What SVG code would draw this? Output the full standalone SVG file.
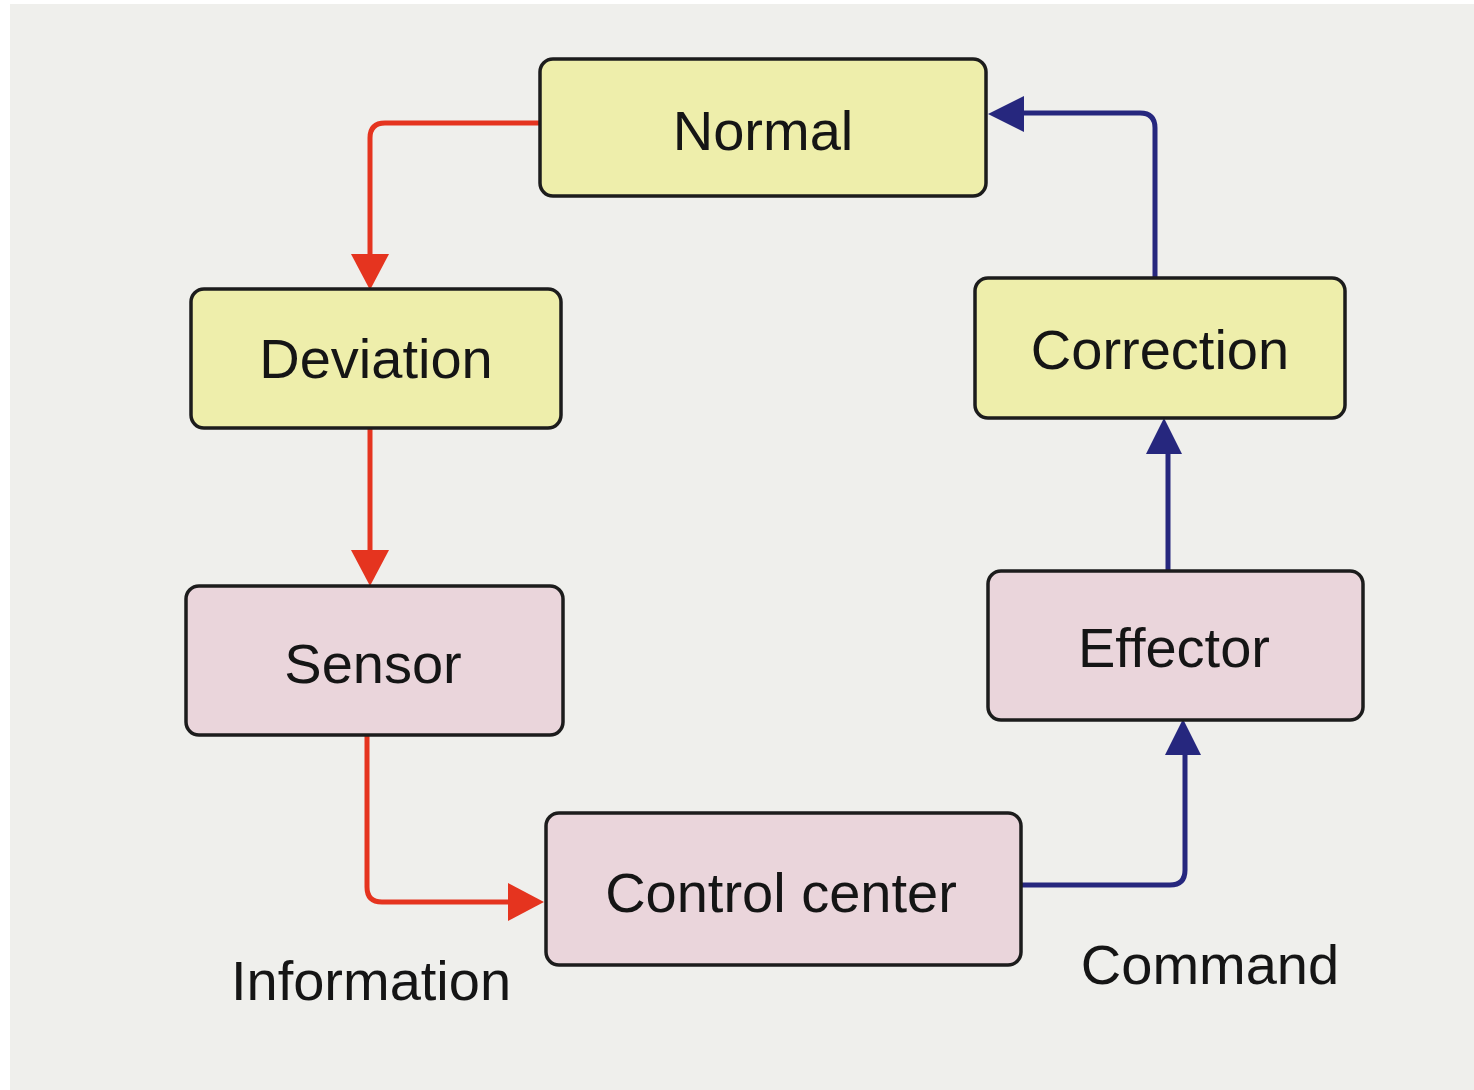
<svg xmlns="http://www.w3.org/2000/svg" width="1474" height="1090" viewBox="0 0 1474 1090">
<style>
.box{stroke:#1c1c1c;stroke-width:3.5}
.y{fill:#eeeeab}
.p{fill:#ead5db}
.t{font-family:"Liberation Sans",Arial,sans-serif;font-size:56px;fill:#151515;text-anchor:middle}
.red{fill:none;stroke:#e5341f;stroke-width:5;stroke-linejoin:round}
.blue{fill:none;stroke:#26277e;stroke-width:5;stroke-linejoin:round}
</style>
<defs>
<marker id="ar" markerWidth="8" markerHeight="8" refX="7.5" refY="4" orient="auto" markerUnits="userSpaceOnUse" viewBox="0 0 8 8">
<path d="M0,0 L8,4 L0,8 Z" fill="#e5341f"/>
</marker>
<marker id="ab" markerWidth="8" markerHeight="8" refX="7.5" refY="4" orient="auto" viewBox="0 0 8 8" markerUnits="userSpaceOnUse">
<path d="M0,0 L8,4 L0,8 Z" fill="#26277e"/>
</marker>
<path id="ahr" d="M-19,-36 L19,-36 L0,0 Z" fill="#e5341f"/>
<path id="ahb" d="M-18,-36 L18,-36 L0,0 Z" fill="#26277e"/>
</defs>
<rect width="1474" height="1090" fill="#ffffff"/>
<rect x="10" y="4" width="1464" height="1086" fill="#efefec"/>

<g id="connectors">
<path class="red" d="M540,123 H385 Q370,123 370,138 V258"/>
<use href="#ahr" transform="translate(370,290)"/>
<path class="red" d="M370,428 V552"/>
<use href="#ahr" transform="translate(370,586)"/>
<path class="red" d="M367,735 V887 Q367,902 382,902 H508"/>
<use href="#ahr" transform="translate(544,902) rotate(-90)"/>
<path class="blue" d="M1021,885 H1170 Q1185,885 1185,870 V752"/>
<use href="#ahb" transform="translate(1183,719) rotate(180)"/>
<path class="blue" d="M1168,570 V452"/>
<use href="#ahb" transform="translate(1164,418) rotate(180)"/>
<path class="blue" d="M1155,277 V128 Q1155,113 1140,113 H1022"/>
<use href="#ahb" transform="translate(988,114) rotate(90)"/>
</g>

<g id="normal">
<rect class="box y" x="540" y="59" width="446" height="137" rx="13"/>
<text class="t" x="763" y="150">Normal</text>
</g>
<g id="deviation">
<rect class="box y" x="191" y="289" width="370" height="139" rx="13"/>
<text class="t" x="376" y="378">Deviation</text>
</g>
<g id="sensor">
<rect class="box p" x="186" y="586" width="377" height="149" rx="13"/>
<text class="t" x="373" y="683">Sensor</text>
</g>
<g id="control-center">
<rect class="box p" x="546" y="813" width="475" height="152" rx="13"/>
<text class="t" x="781" y="912">Control center</text>
</g>
<g id="effector">
<rect class="box p" x="988" y="571" width="375" height="149" rx="13"/>
<text class="t" x="1174" y="667">Effector</text>
</g>
<g id="correction">
<rect class="box y" x="975" y="278" width="370" height="140" rx="13"/>
<text class="t" x="1160" y="369">Correction</text>
</g>
<g id="labels">
<text class="t" x="371" y="1000">Information</text>
<text class="t" x="1210" y="984">Command</text>
</g>
</svg>
